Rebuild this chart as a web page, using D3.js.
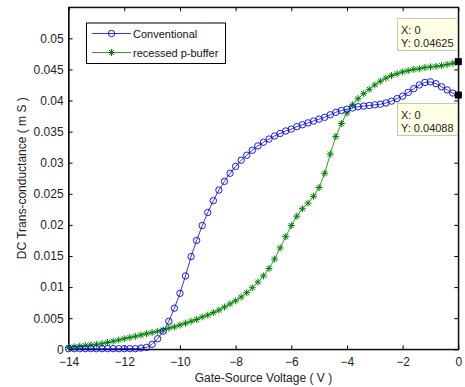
<!DOCTYPE html>
<html>
<head>
<meta charset="utf-8">
<script src="https://cdn.jsdelivr.net/npm/d3@7/dist/d3.min.js"></script>
<style>
  html, body { margin: 0; padding: 0; background: #fff; }
  svg { display: block; font-family: "Liberation Sans", Arial, sans-serif; }
</style>
</head>
<body>
<svg id="chart" width="465" height="387"></svg>
<script>
// ---- data ----
const voltages = d3.range(71).map(i => +(-14 + i * 0.2).toFixed(1));
const conventional = [
  0.0001, 0.0001, 0.0001, 0.0001, 0.0001, 0.0001, 0.0001, 0.0001, 0.0001, 0.0001,
  0.0001, 0.0001, 0.0001, 0.0002, 0.0003, 0.0008, 0.0017, 0.0029, 0.0045, 0.0066,
  0.0090, 0.0118, 0.0149, 0.0175, 0.0199, 0.0220, 0.0239, 0.0256, 0.0270, 0.0283,
  0.0294, 0.0304, 0.0312, 0.0320, 0.0327, 0.0333, 0.0338, 0.0343, 0.0347, 0.0351,
  0.0354, 0.0358, 0.0361, 0.0364, 0.0367, 0.0370, 0.0373, 0.0377, 0.0381, 0.0384,
  0.0386, 0.0388, 0.0390, 0.0391, 0.0392, 0.0393, 0.0394, 0.0396, 0.0399, 0.0403,
  0.0407, 0.0413, 0.0419, 0.0425, 0.0429, 0.0430, 0.0427, 0.0422, 0.0417, 0.0412,
  0.04088
];
const recessed = [
  0.0003, 0.0004, 0.0005, 0.0006, 0.0007, 0.0008, 0.0009, 0.0011, 0.0013, 0.0015,
  0.0017, 0.0019, 0.0021, 0.0023, 0.0025, 0.0027, 0.0029, 0.0031, 0.0034, 0.0036,
  0.0039, 0.0042, 0.0045, 0.0048, 0.0052, 0.0055, 0.0059, 0.0063, 0.0068, 0.0073,
  0.0078, 0.0084, 0.0091, 0.0099, 0.0108, 0.0118, 0.0130, 0.0145, 0.0163, 0.0181,
  0.0199, 0.0214, 0.0226, 0.0235, 0.0246, 0.0260, 0.0283, 0.0314, 0.0342, 0.0363,
  0.0380, 0.0393, 0.0403, 0.0411, 0.0418, 0.0425, 0.0431, 0.0436, 0.0440, 0.0443,
  0.0446, 0.0448, 0.0450, 0.0451, 0.0453, 0.0454, 0.0455, 0.0456, 0.0458, 0.0460,
  0.04625
];
const seriesNames = ["Conventional", "recessed p-buffer"];
const xTicks = [-14, -12, -10, -8, -6, -4, -2, 0];
const yTicks = [0, 0.005, 0.01, 0.015, 0.02, 0.025, 0.03, 0.035, 0.04, 0.045, 0.05];
const yTickLabels = ["0", "0.005", "0.01", "0.015", "0.02", "0.025", "0.03", "0.035", "0.04", "0.045", "0.05"];
const tips = [
  { x: 0, y: 0.04625, label: ["X: 0", "Y: 0.04625"] },
  { x: 0, y: 0.04088, label: ["X: 0", "Y: 0.04088"] }
];
const xLabel = "Gate-Source Voltage ( V )";
const yLabel = "DC Trans-conductance ( m S )";

// ---- layout ----
const L = 68.6, R = 458.3, T = 7.2, B = 349.3;
const svg = d3.select("#chart");
const x = d3.scaleLinear().domain([-14, 0]).range([L, R]);
const y = d3.scaleLinear().domain([0, 0.055]).range([B, T]);
const tick = 4;

// axes
function styleAxis(g) {
  g.selectAll("path.domain").attr("stroke", "#000").attr("stroke-width", 1);
  g.selectAll(".tick line").attr("stroke", "#000");
  g.selectAll("text").attr("font-size", 12).attr("fill", "#222")
   .attr("font-family", '"Liberation Sans", Arial, sans-serif');
}
svg.append("g").attr("transform", `translate(0,${B})`)
  .call(d3.axisBottom(x).tickValues(xTicks).tickSize(-tick).tickSizeOuter(0).tickPadding(8).tickFormat(d3.format("d")))
  .call(styleAxis);
svg.append("g").attr("transform", `translate(0,${T})`)
  .call(d3.axisTop(x).tickValues(xTicks).tickSize(-tick).tickSizeOuter(0).tickFormat(""))
  .call(styleAxis);
svg.append("g").attr("transform", `translate(${L},0)`)
  .call(d3.axisLeft(y).tickValues(yTicks).tickSize(-tick).tickSizeOuter(0).tickPadding(5)
    .tickFormat((d, i) => yTickLabels[i]))
  .call(styleAxis);
svg.append("g").attr("transform", `translate(${R},0)`)
  .call(d3.axisRight(y).tickValues(yTicks).tickSize(-tick).tickSizeOuter(0).tickFormat(""))
  .call(styleAxis);
// close box
svg.append("rect").attr("x", L).attr("y", T).attr("width", R - L).attr("height", B - T)
  .attr("fill", "none").attr("stroke", "#000").attr("stroke-width", 1);

// axis labels
svg.append("text").attr("x", (L + R) / 2).attr("y", 382).attr("text-anchor", "middle")
  .attr("font-size", 12).attr("fill", "#222").text(xLabel);
svg.append("text").attr("transform", `translate(26,${(T + B) / 2}) rotate(-90)`)
  .attr("text-anchor", "middle").attr("font-size", 12).attr("fill", "#222").text(yLabel);

// series
const blue = "#0000ee", green = "#008000";
const line = d3.line().x(d => x(d[0])).y(d => y(d[1]));
const convData = voltages.map((v, i) => [v, conventional[i]]);
const recData = voltages.map((v, i) => [v, recessed[i]]);

const plot = svg.append("g");
plot.append("path").datum(convData).attr("d", line).attr("fill", "none")
  .attr("stroke", blue).attr("stroke-width", 0.8);
plot.append("path").datum(recData).attr("d", line).attr("fill", "none")
  .attr("stroke", green).attr("stroke-width", 0.8);

function star(g, cx, cy, color) {
  const a = 3.5, b = 2.5;
  g.append("path")
    .attr("d", `M${cx - a},${cy}L${cx + a},${cy}M${cx},${cy - a}L${cx},${cy + a}` +
               `M${cx - b},${cy - b}L${cx + b},${cy + b}M${cx - b},${cy + b}L${cx + b},${cy - b}`)
    .attr("stroke", color).attr("stroke-width", 1).attr("fill", "none");
}
recData.forEach(d => star(plot, x(d[0]), y(d[1]), green));
plot.selectAll("circle.conv").data(convData).enter().append("circle")
  .attr("class", "conv").attr("cx", d => x(d[0])).attr("cy", d => y(d[1])).attr("r", 3.2)
  .attr("fill", "none").attr("stroke", blue).attr("stroke-width", 0.9);

// legend
const lg = svg.append("g");
lg.append("rect").attr("x", 86.5).attr("y", 23).attr("width", 139).attr("height", 40.5)
  .attr("fill", "#fff").attr("stroke", "#000").attr("stroke-width", 1);
const rows = [33.5, 52.5];
lg.append("line").attr("x1", 92).attr("x2", 131).attr("y1", rows[0]).attr("y2", rows[0]).attr("stroke", blue).attr("stroke-width", 0.8);
lg.append("circle").attr("cx", 111.5).attr("cy", rows[0]).attr("r", 3.2).attr("fill", "none").attr("stroke", blue).attr("stroke-width", 0.9);
lg.append("line").attr("x1", 92).attr("x2", 131).attr("y1", rows[1]).attr("y2", rows[1]).attr("stroke", green).attr("stroke-width", 0.8);
star(lg, 111.5, rows[1], green);
seriesNames.forEach((n, i) => {
  lg.append("text").attr("x", 133).attr("y", rows[i] + 4).attr("font-size", 11).attr("fill", "#111").text(n);
});

// data tips
const tipBoxes = [{ top: 18, h: 32 }, { top: 103, h: 32 }];
tips.forEach((t, i) => {
  const g = svg.append("g");
  g.append("rect").attr("x", 397.5).attr("y", tipBoxes[i].top + 0.5).attr("width", 60).attr("height", tipBoxes[i].h)
    .attr("fill", "#ffffe6").attr("stroke", "#c8c8b4").attr("stroke-width", 1);
  t.label.forEach((s, j) => {
    g.append("text").attr("x", 401).attr("y", tipBoxes[i].top + 16 + j * 13)
      .attr("font-size", 11).attr("fill", "#222").text(s);
  });
  g.append("rect").attr("x", x(t.x) - 3.5).attr("y", y(t.y) - 3.5).attr("width", 7).attr("height", 7)
    .attr("fill", "#000");
});
</script>
</body>
</html>
